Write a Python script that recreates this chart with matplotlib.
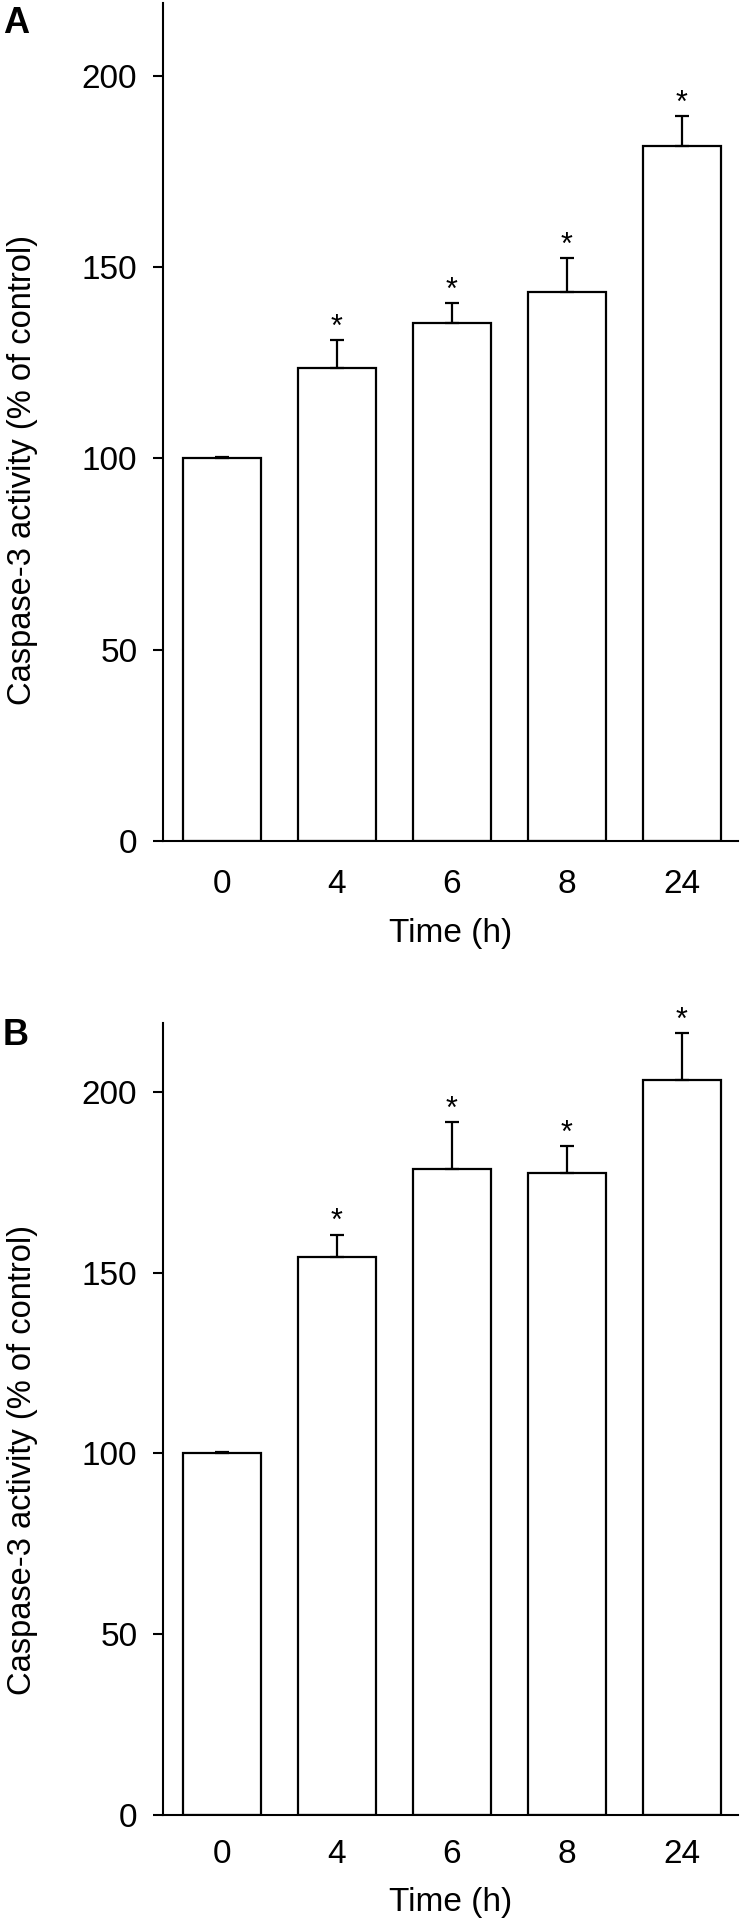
import matplotlib
matplotlib.use("Agg")
import matplotlib.pyplot as plt
import numpy as np

plt.rcParams['font.family'] = ['Liberation Sans', 'DejaVu Sans']

# ---- data ----
categories = ["0", "4", "6", "8", "24"]
means_A = [100, 123.5, 135.4, 143.4, 181.6]
err_A = [0.3, 7.4, 5.1, 8.9, 7.8]
signif_A = [False, True, True, True, True]

means_B = [100, 154.3, 178.7, 177.4, 203.3]
err_B = [0.3, 6.2, 12.8, 7.7, 12.8]
signif_B = [False, True, True, True, True]

yticks = [0, 50, 100, 150, 200]
ylabel = "Caspase-3 activity (% of control)"
xlabel = "Time (h)"

W, H = 741, 1920
fig = plt.figure(figsize=(W / 100, H / 100), dpi=100)


def px_axes(left, top, right, bottom):
    return fig.add_axes([left / W, 1 - bottom / H, (right - left) / W, (bottom - top) / H])


def draw(ax, means, errs, signif, xpad, xlab_y):
    x = np.arange(len(categories))
    ax.bar(x, means, width=0.67, color='white', edgecolor='black', linewidth=1.6, zorder=2)
    ax.errorbar(x, means, yerr=[np.zeros(len(errs)), errs], fmt='none', ecolor='black',
                elinewidth=1.6, capsize=4.7, capthick=1.6, zorder=3)
    for xi, m, e, s in zip(x, means, errs, signif):
        if s:
            ax.annotate('*', xy=(xi, m + e), xytext=(0, 3), textcoords='offset points',
                        ha='center', va='baseline', fontsize=22)
    ax.set_xlim(-0.513, 4.487)
    ax.set_ylim(0, 219)
    ax.set_yticks(yticks)
    ax.set_xticks(x)
    ax.set_xticklabels(categories)
    for sp in ['top', 'right']:
        ax.spines[sp].set_visible(False)
    for sp in ['left', 'bottom']:
        ax.spines[sp].set_linewidth(1.5)
    ax.tick_params(axis='y', direction='out', length=7, width=1.5, pad=11.5, labelsize=24)
    ax.tick_params(axis='x', length=0, pad=xpad, labelsize=24)
    ax.set_xlabel(xlabel, fontsize=24)
    ax.xaxis.set_label_coords(0.5, xlab_y)


axA = px_axes(163, 3, 738, 841)
draw(axA, means_A, err_A, signif_A, 20.0, -0.092)
axB = px_axes(163, 1023, 738, 1815)
draw(axB, means_B, err_B, signif_B, 17.2, -0.091)

fig.text(23 / W, 1 - 470 / H, ylabel, rotation=90, ha='center', va='center', fontsize=23.5)
fig.text(23 / W, 1 - 1460 / H, ylabel, rotation=90, ha='center', va='center', fontsize=23.5)

fig.text(3 / W, 1 - 33 / H, 'A', fontsize=26, fontweight='bold', ha='left', va='baseline')
fig.text(3 / W, 1 - 1045 / H, 'B', fontsize=26, fontweight='bold', ha='left', va='baseline')

fig.savefig('out.png', dpi=100)
